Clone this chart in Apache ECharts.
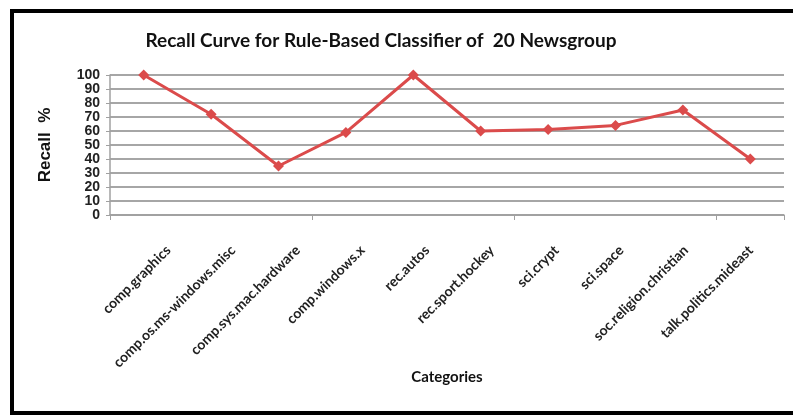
<!DOCTYPE html>
<html>
<head>
<meta charset="utf-8">
<script src="https://cdn.jsdelivr.net/npm/echarts@6/dist/echarts.min.js"></script>
<style>
    html, body { margin: 0; padding: 0; background: #fff; }
    #chart { width: 793px; height: 417px; }
</style>
</head>
<body>
<div id="chart"></div>
<script>
// categories of the 20 Newsgroup subset
const categories = [
    'comp.graphics',
    'comp.os.ms-windows.misc',
    'comp.sys.mac.hardware',
    'comp.windows.x',
    'rec.autos',
    'rec.sport.hockey',
    'sci.crypt',
    'sci.space',
    'soc.religion.christian',
    'talk.politics.mideast'
];
// recall values in %
const recall = [100, 72, 35, 59, 100, 60, 61, 64, 75, 40];
const yTicks = [0, 10, 20, 30, 40, 50, 60, 70, 80, 90, 100];

const chart = echarts.init(document.getElementById('chart'));

const labelFont = { fontFamily: 'Lato', fontWeight: 'bold', color: '#222' };

const option = {
    backgroundColor: '#fff',
    animation: false,
    textStyle: { fontFamily: 'Lato' },
    title: {
        text: 'Recall Curve for Rule-Based Classifier of  20 Newsgroup',
        left: 376,
        top: 26,
        textAlign: 'center',
        textStyle: { fontFamily: 'Lato', fontWeight: 'bold', fontSize: 19, color: '#111' }
    },
    graphic: [
        {
            type: 'rect',
            shape: { x: 12, y: 11, width: 800, height: 402 },
            style: { fill: 'none', stroke: '#000', lineWidth: 4 },
            silent: true
        }
    ],
    grid: [
        { left: 110, right: 9, top: 75, bottom: 202 },
        // labels in the picture sit on a slightly narrower spread than the ticks
        { left: 136, right: 10, top: 75, bottom: 202 }
    ],
    xAxis: [
        {
            type: 'category',
            data: categories,
            boundaryGap: true,
            name: 'Categories',
            nameLocation: 'middle',
            nameGap: 155,
            nameTextStyle: { fontFamily: 'Lato', fontWeight: 'bold', fontSize: 15, color: '#111' },
            axisLine: { lineStyle: { color: '#a0a0a0', width: 1.5 } },
            axisTick: { show: true, alignWithLabel: false, length: 5, lineStyle: { color: '#a0a0a0' } },
            axisLabel: { show: false }
        },
        {
            type: 'category',
            gridIndex: 1,
            data: categories,
            boundaryGap: true,
            axisLine: { show: false },
            axisTick: { show: false },
            splitLine: { show: false },
            axisLabel: Object.assign({
                rotate: 45,
                interval: 0,
                margin: 33,
                fontSize: 14
            }, labelFont)
        }
    ],
    yAxis: [
        {
            type: 'value',
            min: yTicks[0],
            max: yTicks[yTicks.length - 1],
            interval: 10,
            name: 'Recall  %',
            nameLocation: 'middle',
            nameGap: 56,
            nameRotate: 90,
            nameTextStyle: { fontFamily: 'Liberation Sans', fontWeight: 'bold', fontSize: 17, color: '#111' },
            axisLine: { show: true, lineStyle: { color: '#a0a0a0', width: 1.5 } },
            axisTick: { show: true, length: 4, lineStyle: { color: '#a0a0a0' } },
            axisLabel: {
                margin: 10,
                showMinLabel: true,
                showMaxLabel: true,
                hideOverlap: false,
                fontFamily: 'Liberation Sans',
                fontWeight: 'bold',
                fontSize: 14,
                lineHeight: 14,
                color: '#222'
            },
            splitLine: { lineStyle: { color: '#a6a6a6', width: 2 } }
        },
        {
            type: 'value',
            gridIndex: 1,
            show: false,
            min: 0,
            max: 100,
            splitLine: { show: false }
        }
    ],
    series: [
        {
            name: 'Recall',
            type: 'line',
            data: recall,
            symbol: 'diamond',
            symbolSize: 11,
            lineStyle: { color: '#db4b4b', width: 3 },
            itemStyle: { color: '#db4b4b' }
        }
    ]
};

chart.setOption(option);
</script>
</body>
</html>
